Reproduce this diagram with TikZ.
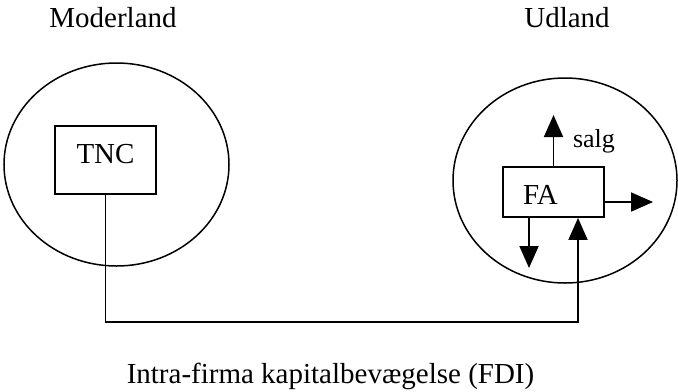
\documentclass[tikz,border=0pt]{standalone}
\usepackage{fontspec}
\setmainfont{Liberation Serif}
\usepackage{tikz}
\usetikzlibrary{shapes}
\usetikzlibrary{positioning}
\usetikzlibrary{arrows.meta}

\begin{document}
\begin{tikzpicture}[x=0.5pt, y=-0.5pt, line width=0.9pt, font=\fontsize{14.5}{17}\selectfont,
	land_node/.style={ellipse,draw,inner sep=0pt,line width=0.75pt},
	firm_node/.style={rectangle,draw,minimum width=50.5pt,inner ysep=0pt},
	flow_arrow/.style={-{Triangle[length=11pt,width=9.5pt]}}]

	\useasboundingbox (0,0) rectangle (678,391);

	\node[land_node,minimum width=112.5pt,minimum height=101.5pt] (m) at (116.5,164.5) {};
	\node[land_node,minimum width=112pt,minimum height=102.5pt] (u) at (565,180.5) {};

	\node[anchor=base] (mt) at (113,27) {Moderland};
	\node[anchor=base] (ut) at (567,27) {Udland};

	\node[firm_node,minimum height=34pt,text depth=6pt] (tnc) at (105.5,160) {TNC};
	\node[firm_node,minimum height=25pt,inner xsep=10pt,text width=30.5pt,align=left,text height=12pt,text depth=0pt] (fa) at (553.5,192) {FA};

	\node[anchor=base,font=\fontsize{13}{15}\selectfont] (salg) at (594,147) {salg};
	\node[anchor=base] (fdi) at (330.5,383) {Intra-firma kapitalbevægelse (FDI)};

	\coordinate (op) at (553.5,115);
	\coordinate (ud) at (653,202);
	\coordinate (ned) at (529,268);
	\coordinate (bund) at (578,322);

	\draw[flow_arrow] (fa.north) -- (op);
	\draw[flow_arrow] (fa.east |- ud) -- (ud);
	\draw[flow_arrow] (fa.south -| ned) -- (ned);
	\draw[flow_arrow] (tnc.south) |- (bund) -- (fa.south -| bund);
\end{tikzpicture}
\end{document}
